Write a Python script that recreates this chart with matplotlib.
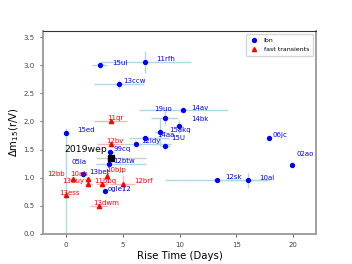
import matplotlib.pyplot as plt
import numpy as np

# lbn sample
lbn_names = ['15ul', '11rfh', '13ccw', '14av', '19uo', '14bk', '15akq', '15ed', '14aa',
             '12ldy', '15U', '99cq', '12btw', '13bet', 'ogle12', '06jc', '02ao', '12sk', '10al']
lbn_rise = [3.0, 7.0, 4.7, 10.33, 8.69, 9.98, 8.31, 0.0, 6.96,
            6.22, 8.75, 3.9, 3.82, 1.55, 3.46, 17.9, 19.9, 13.3, 16.0]
lbn_dm15 = [3.0, 3.06, 2.66, 2.21, 2.06, 1.91, 1.81, 1.79, 1.70,
            1.60, 1.56, 1.46, 1.25, 1.07, 0.77, 1.70, 1.23, 0.96, 0.95]
lbn_xlo = [0.65, 4.0, 2.2, 3.9, 1.2, 0.3, 0.5, 0.0, 1.4, 1.1, 0.4, 0.3, 1.2, 0.3, 0.2, 0.1, 0.1, 4.6, 1.9]
lbn_xhi = [0.65, 4.0, 2.2, 3.9, 1.2, 0.3, 0.5, 0.0, 2.1, 3.0, 0.4, 0.3, 3.2, 0.3, 0.2, 0.1, 0.1, 4.6, 1.9]
lbn_ylo = [0.05, 0.2, 0.08, 0.05, 0.13, 0.12, 0.25, 1.9, 0.05, 0.05, 0.05, 0.05, 0.05, 0.05, 0.03, 0.05, 0.05, 0.02, 0.13]
lbn_yhi = [0.05, 0.2, 0.08, 0.05, 0.13, 0.12, 0.25, 0.09, 0.05, 0.05, 0.05, 0.05, 0.05, 0.05, 0.03, 0.05, 0.05, 0.02, 0.13]
# label offsets in pixels
lbn_dx = [12, 11, 4, 8, -10, 12, 9, 12, 12, 5, 6, 3, 4, 6, 3, 3, 4, 8, 11]
lbn_dy = [2, 3, 3, 2, 9, 7, 2, 3, 3, 3, 8, 3, 3, 2, 2, 3, 11, 3, 2]

# fast transients
ft_names = ['11qr', '12bv', '10bjp', '12bb', '10ah', '13duy', '11bbq', '12brf', '13ess', '13dwm']
ft_rise = [3.96, 3.96, 3.64, 0.6, 1.94, 2.0, 3.2, 5.0, 0.0, 2.9]
ft_dm15 = [2.0, 1.6, 1.03, 0.97, 0.97, 0.89, 0.89, 0.89, 0.70, 0.49]
ft_xerr = [1.45, 1.2, 0.2, 0.3, 0.3, 0.3, 0.5, 1.1, 0.2, 0.8]
ft_yerr = [0.03, 0.05, 0.12, 0.05, 0.05, 0.05, 0.05, 0.15, 0.05, 0.03]
ft_dx = [-4, -5, -1, -25, -18, -26, -8, 12, -6, -5]
ft_dy = [3, 3, 6, 5, 5, 3, 3, 3, 2, 3]

# SN 2019wep
wep_rise = 4.02
wep_dm15 = 1.35
wep_xerr = [[1.4], [3.0]]

fig = plt.figure(figsize=(3.52, 2.64), dpi=100)
ax = fig.add_axes([0.122, 0.114, 0.776, 0.769])

ax.errorbar(lbn_rise, lbn_dm15, xerr=[lbn_xlo, lbn_xhi], yerr=[lbn_ylo, lbn_yhi],
            fmt='none', ecolor='lightblue', elinewidth=1, zorder=1)
ax.errorbar(ft_rise, ft_dm15, xerr=ft_xerr, yerr=ft_yerr,
            fmt='none', ecolor='#ffb3b3', elinewidth=1, zorder=1)
ax.errorbar([wep_rise], [wep_dm15], xerr=wep_xerr, fmt='none', ecolor='#cccccc', elinewidth=1, zorder=1)

ax.plot(lbn_rise, lbn_dm15, 'o', color='blue', ms=2.8, ls='', label='lbn', zorder=3)
ax.plot(ft_rise, ft_dm15, '^', color='red', ms=3, ls='', label='fast transients', zorder=3)
ax.plot([wep_rise], [wep_dm15], 's', color='black', ms=4, zorder=4)

for i in range(len(lbn_names)):
    ax.annotate(lbn_names[i], (lbn_rise[i], lbn_dm15[i]), xytext=(lbn_dx[i], lbn_dy[i]),
                textcoords='offset pixels', color='blue', fontsize=5, va='center', ha='left')
for i in range(len(ft_names)):
    ax.annotate(ft_names[i], (ft_rise[i], ft_dm15[i]), xytext=(ft_dx[i], ft_dy[i]),
                textcoords='offset pixels', color='red', fontsize=5, va='center', ha='left')
ax.annotate('2019wep', (wep_rise, wep_dm15), xytext=(-4, 8), textcoords='offset pixels',
            color='black', fontsize=6.7, va='center', ha='right')
ax.text(0.55, 1.275, '05la', color='blue', fontsize=5, va='center', ha='left')

ax.set_xlim(-2, 22)
ax.set_ylim(0, 3.61)
ax.set_xticks([0, 5, 10, 15, 20])
ax.set_yticks([0.0, 0.5, 1.0, 1.5, 2.0, 2.5, 3.0, 3.5])
ax.tick_params(labelsize=5, length=2.5, width=0.6, colors='#444444')
ax.set_xlabel('Rise Time (Days)', fontsize=7.3, labelpad=2)
ax.set_ylabel(r'$\Delta$m$_{15}$(r/V)', fontsize=7.3, labelpad=2)

for s in ['left', 'bottom', 'right']:
    ax.spines[s].set_color('#999999')
    ax.spines[s].set_linewidth(1.3)
ax.spines['top'].set_color('#333333')
ax.spines['top'].set_linewidth(0.8)

ax.legend(loc='upper right', fontsize=4.5, handlelength=1.5, borderpad=0.6, labelspacing=0.6)

plt.savefig('out.png', dpi=100)
